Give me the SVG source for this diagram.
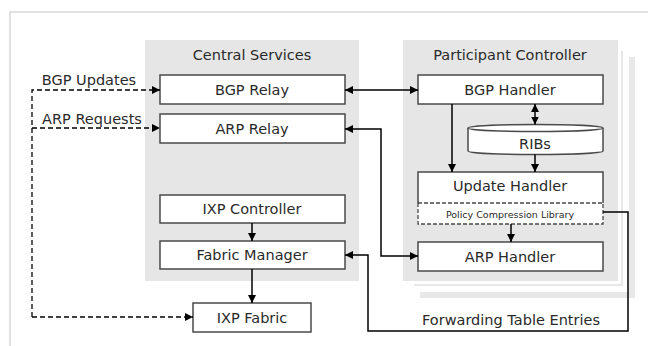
<svg xmlns="http://www.w3.org/2000/svg" width="648" height="346" viewBox="0 0 648 346">
<defs>
<marker id="ah" viewBox="0 0 8 8" refX="8" refY="4" markerWidth="8" markerHeight="8" markerUnits="userSpaceOnUse" orient="auto-start-reverse">
<path d="M0,0 L8,4 L0,8 z" fill="#000"/>
</marker>
<style>
.t{font-family:"DejaVu Sans",Verdana,sans-serif;font-size:14.5px;fill:#2a2a2a;text-anchor:middle}
.box{fill:#fff;stroke:#4a4a4a;stroke-width:1.5}
.ln{fill:none;stroke:#000;stroke-width:1.5}
.dl{fill:none;stroke:#000;stroke-width:1.3;stroke-dasharray:5,3}
</style>
</defs>
<rect width="648" height="346" fill="#fff"/>
<rect x="10" y="12" width="700" height="400" fill="none" stroke="#d8d8d8" stroke-width="1.5"/>
<g id="central-services">
<rect x="145" y="40" width="214" height="241" fill="#e6e6e6"/>
<text class="t" x="252" y="60">Central Services</text>
</g>
<g id="participant-controller">
<rect x="420" y="57" width="215" height="241" fill="#e8e8e8"/>
<rect x="411" y="48" width="215" height="241" fill="#e8e8e8" stroke="#fff" stroke-width="6"/>
<rect x="403" y="40" width="215" height="241" fill="#e6e6e6" stroke="#fff" stroke-width="6"/>
<rect x="403" y="40" width="215" height="241" fill="#e6e6e6"/>
<text class="t" x="510" y="60">Participant Controller</text>
</g>
<g id="bgp-relay"><rect class="box" x="160" y="75" width="185" height="29"/><text class="t" x="252" y="95">BGP Relay</text></g>
<g id="arp-relay"><rect class="box" x="160" y="114" width="185" height="29"/><text class="t" x="252" y="134">ARP Relay</text></g>
<g id="ixp-controller"><rect class="box" x="160" y="195" width="185" height="28"/><text class="t" x="252" y="214">IXP Controller</text></g>
<g id="fabric-manager"><rect class="box" x="160" y="241" width="185" height="28"/><text class="t" x="252" y="260">Fabric Manager</text></g>
<g id="ixp-fabric"><rect class="box" x="193" y="303" width="118" height="29"/><text class="t" x="252" y="323">IXP Fabric</text></g>
<g id="bgp-handler"><rect class="box" x="418" y="75" width="185" height="29"/><text class="t" x="510" y="95">BGP Handler</text></g>
<g id="ribs">
<path d="M468,128 L468,151 A67.5,3.5 0 0 0 603,151 L603,128" fill="#fff" stroke="#4a4a4a" stroke-width="1.5"/>
<ellipse cx="535.5" cy="128" rx="67.5" ry="3.5" fill="#fff" stroke="#4a4a4a" stroke-width="1.5"/>
<text class="t" x="535" y="149">RIBs</text>
</g>
<g id="update-handler">
<rect x="418" y="172" width="185" height="52" fill="#fff"/>
<path d="M418,203 L418,172 L603,172 L603,203" fill="none" stroke="#4a4a4a" stroke-width="1.5"/>
<path d="M418,203 L603,203 L603,224 L418,224 Z" fill="none" stroke="#4a4a4a" stroke-width="1.3" stroke-dasharray="4,2"/>
<text class="t" x="510" y="191">Update Handler</text>
<text class="t" x="510" y="218" style="font-size:9.5px">Policy Compression Library</text>
</g>
<g id="arp-handler"><rect class="box" x="418" y="242" width="185" height="29"/><text class="t" x="510" y="262">ARP Handler</text></g>
<g id="connectors">
<path class="ln" d="M345,90 L418,90" marker-start="url(#ah)" marker-end="url(#ah)"/>
<path class="ln" d="M418,256 L381,256 L381,129 L345,129" marker-start="url(#ah)" marker-end="url(#ah)"/>
<path class="ln" d="M452,104 L452,172" marker-end="url(#ah)"/>
<path class="ln" d="M535,104 L535,124.5" marker-start="url(#ah)" marker-end="url(#ah)"/>
<path class="ln" d="M535,154.5 L535,172" marker-end="url(#ah)"/>
<path class="ln" d="M511,224 L511,242" marker-end="url(#ah)"/>
<path class="ln" d="M603,212 L628,212 L628,331 L368,331 L368,255 L345,255" marker-end="url(#ah)"/>
<path class="ln" d="M252,223 L252,241" marker-end="url(#ah)"/>
<path class="ln" d="M252,269 L252,303" marker-end="url(#ah)"/>
<path class="dl" d="M32,317 L32,90 L160,90" marker-end="url(#ah)"/>
<path class="dl" d="M32,128 L160,128" marker-end="url(#ah)"/>
<path class="dl" d="M32,317 L193,317" marker-end="url(#ah)"/>
<text class="t" x="89" y="85">BGP Updates</text>
<text class="t" x="92" y="124">ARP Requests</text>
<text class="t" x="511" y="325">Forwarding Table Entries</text>
</g>
</svg>
